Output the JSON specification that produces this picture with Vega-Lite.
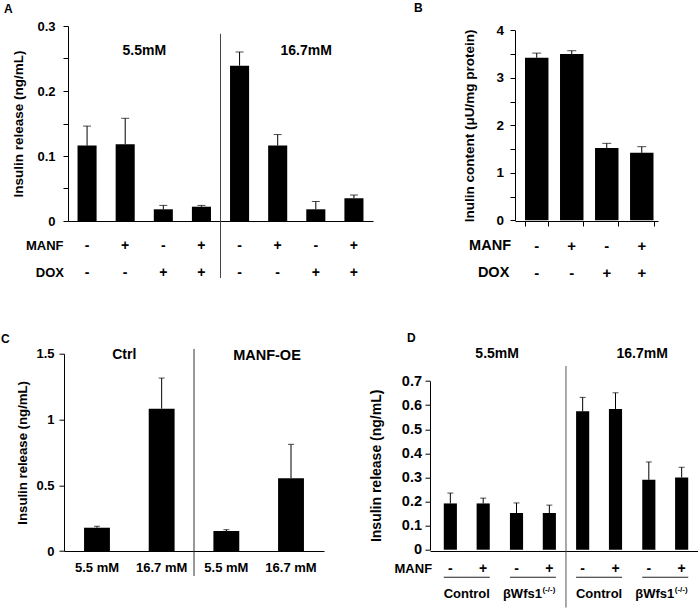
{
  "$schema": "https://vega.github.io/schema/vega-lite/v6.json",
  "background": "white",
  "padding": {"left": 1, "top": 2, "right": 0, "bottom": 0},
  "bounds": "flush",
  "columns": 2,
  "spacing": {"row": 132.7, "column": 57},
  "config": {
    "view": {"stroke": null},
    "font": "Liberation Sans",
    "axis": {"labelFont": "Liberation Sans", "titleFont": "Liberation Sans", "labelFontWeight": "bold", "titleFontWeight": "bold", "labelColor": "#000", "titleColor": "#000", "domainColor": "#000", "tickColor": "#000", "tickSize": 5, "grid": false, "domainWidth": 1, "tickWidth": 1},
    "text": {"font": "Liberation Sans", "fontWeight": "bold", "color": "#000"}
  },
  "datasets": {
    "A": [
      {"id": "1", "glucose": "5.5mM", "manf": "-", "dox": "-", "value": 0.116, "upper": 0.146},
      {"id": "2", "glucose": "5.5mM", "manf": "+", "dox": "-", "value": 0.118, "upper": 0.158},
      {"id": "3", "glucose": "5.5mM", "manf": "-", "dox": "+", "value": 0.018, "upper": 0.024},
      {"id": "4", "glucose": "5.5mM", "manf": "+", "dox": "+", "value": 0.022, "upper": 0.024},
      {"id": "5", "glucose": "16.7mM", "manf": "-", "dox": "-", "value": 0.239, "upper": 0.260},
      {"id": "6", "glucose": "16.7mM", "manf": "+", "dox": "-", "value": 0.116, "upper": 0.133},
      {"id": "7", "glucose": "16.7mM", "manf": "-", "dox": "+", "value": 0.018, "upper": 0.030},
      {"id": "8", "glucose": "16.7mM", "manf": "+", "dox": "+", "value": 0.035, "upper": 0.040}
    ],
    "B": [
      {"id": "1", "manf": "-", "dox": "-", "value": 3.42, "upper": 3.52},
      {"id": "2", "manf": "+", "dox": "-", "value": 3.50, "upper": 3.57},
      {"id": "3", "manf": "-", "dox": "+", "value": 1.52, "upper": 1.62},
      {"id": "4", "manf": "+", "dox": "+", "value": 1.42, "upper": 1.55}
    ],
    "C": [
      {"id": "1", "group": "Ctrl", "glucose": "5.5 mM", "value": 0.177, "upper": 0.188},
      {"id": "2", "group": "Ctrl", "glucose": "16.7 mM", "value": 1.082, "upper": 1.315},
      {"id": "3", "group": "MANF-OE", "glucose": "5.5 mM", "value": 0.152, "upper": 0.162},
      {"id": "4", "group": "MANF-OE", "glucose": "16.7 mM", "value": 0.553, "upper": 0.811}
    ],
    "D": [
      {"g": "5.5mM Control", "glucose": "5.5mM", "genotype": "Control", "manf": "-", "value": 0.192, "upper": 0.235},
      {"g": "5.5mM Control", "glucose": "5.5mM", "genotype": "Control", "manf": "+", "value": 0.192, "upper": 0.214},
      {"g": "5.5mM βWfs1", "glucose": "5.5mM", "genotype": "βWfs1", "manf": "-", "value": 0.152, "upper": 0.194},
      {"g": "5.5mM βWfs1", "glucose": "5.5mM", "genotype": "βWfs1", "manf": "+", "value": 0.152, "upper": 0.185},
      {"g": "16.7mM Control", "glucose": "16.7mM", "genotype": "Control", "manf": "-", "value": 0.574, "upper": 0.632},
      {"g": "16.7mM Control", "glucose": "16.7mM", "genotype": "Control", "manf": "+", "value": 0.584, "upper": 0.651},
      {"g": "16.7mM βWfs1", "glucose": "16.7mM", "genotype": "βWfs1", "manf": "-", "value": 0.290, "upper": 0.364},
      {"g": "16.7mM βWfs1", "glucose": "16.7mM", "genotype": "βWfs1", "manf": "+", "value": 0.300, "upper": 0.342}
    ]
  },
  "concat": [
    {
      "width": 309, "height": 195,
      "data": {"name": "A"},
      "encoding": {
        "x": {"field": "id", "type": "nominal", "scale": {"domain": ["1","2","3","4","5","6","7","8"], "range": [4, 309], "paddingInner": 0.5, "paddingOuter": 0.25}, "axis": {"labels": false, "ticks": false, "title": null}},
        "y": {"field": "value", "type": "quantitative", "scale": {"domain": [0, 0.3], "nice": false}, "axis": {"title": "Insulin release (ng/mL)", "values": [0, 0.05, 0.1, 0.15, 0.2, 0.25, 0.3], "labelExpr": "round(datum.value*20)%2==0 ? format(datum.value,'~g') : ''", "offset": -4, "labelPadding": 8, "titlePadding": 11, "labelFontSize": 13, "titleFontSize": 13.5}}
      },
      "layer": [
        {"mark": {"type": "bar", "color": "#000"}},
        {"mark": {"type": "rule", "color": "#000"}, "encoding": {"y2": {"field": "upper"}}},
        {"mark": {"type": "tick", "color": "#000", "size": 8, "thickness": 1}, "encoding": {"y": {"field": "upper", "type": "quantitative"}}},
        {"mark": {"type": "text", "fontSize": 14, "baseline": "middle"}, "encoding": {"y": {"datum": -0.0385}, "text": {"field": "manf"}}},
        {"mark": {"type": "text", "fontSize": 14, "baseline": "middle"}, "encoding": {"y": {"datum": -0.08}, "text": {"field": "dox"}}},
        {"transform": [{"filter": "datum.id == '1'"}], "mark": {"type": "text", "fontSize": 13, "align": "right", "baseline": "middle", "dx": -14}, "encoding": {"x": {"field": "id", "type": "nominal", "bandPosition": 0}, "y": {"datum": -0.0385}, "text": {"value": "MANF"}}},
        {"transform": [{"filter": "datum.id == '1'"}], "mark": {"type": "text", "fontSize": 13, "align": "right", "baseline": "middle", "dx": -13.5}, "encoding": {"x": {"field": "id", "type": "nominal", "bandPosition": 0}, "y": {"datum": -0.08}, "text": {"value": "DOX"}}},
        {"transform": [{"filter": "datum.id == '2'"}], "mark": {"type": "text", "fontSize": 14, "baseline": "middle"}, "encoding": {"x": {"field": "id", "type": "nominal", "bandPosition": 1.5}, "y": {"datum": 0.2615}, "text": {"field": "glucose"}}},
        {"transform": [{"filter": "datum.id == '6'"}], "mark": {"type": "text", "fontSize": 14, "baseline": "middle", "dx": 9.4}, "encoding": {"x": {"field": "id", "type": "nominal", "bandPosition": 1.5}, "y": {"datum": 0.2615}, "text": {"field": "glucose"}}},
        {"transform": [{"filter": "datum.id == '4'"}], "mark": {"type": "rule", "color": "#444"}, "encoding": {"x": {"field": "id", "type": "nominal", "bandPosition": 1.5}, "y": {"datum": 0.288}, "y2": {"datum": -0.0877}}},
        {"transform": [{"filter": "datum.id == '1'"}], "mark": {"type": "text", "fontSize": 12, "align": "left", "baseline": "middle", "dx": -73.5}, "encoding": {"x": {"field": "id", "type": "nominal", "bandPosition": 0}, "y": {"datum": 0.326}, "text": {"value": "A"}}}
      ]
    },
    {
      "width": 228, "height": 195,
      "data": {"name": "B"},
      "encoding": {
        "x": {"field": "id", "type": "nominal", "scale": {"domain": ["1","2","3","4"], "range": [85, 228], "paddingInner": 0.33, "paddingOuter": 0.207, "align": 0.69}, "axis": {"labels": false, "ticks": true, "tickBand": "extent", "title": null}},
        "y": {"field": "value", "type": "quantitative", "scale": {"domain": [0, 4], "nice": false, "range": [194.3, 4.3]}, "axis": {"title": "Inulin content (μU/mg protein)", "values": [0, 0.5, 1, 1.5, 2, 2.5, 3, 3.5, 4], "labelExpr": "round(datum.value*2)%2==0 ? format(datum.value,'~g') : ''", "offset": -85, "labelPadding": 6.5, "titlePadding": 19, "labelFontSize": 13.5, "titleFontSize": 13.5}}
      },
      "layer": [
        {"mark": {"type": "bar", "color": "#000"}},
        {"mark": {"type": "rule", "color": "#000"}, "encoding": {"y2": {"field": "upper"}}},
        {"mark": {"type": "tick", "color": "#000", "size": 9, "thickness": 1}, "encoding": {"y": {"field": "upper", "type": "quantitative"}}},
        {"mark": {"type": "text", "fontSize": 15, "baseline": "middle"}, "encoding": {"y": {"datum": -0.541}, "text": {"field": "manf"}}},
        {"mark": {"type": "text", "fontSize": 15, "baseline": "middle"}, "encoding": {"y": {"datum": -1.109}, "text": {"field": "dox"}}},
        {"transform": [{"filter": "datum.id == '1'"}], "mark": {"type": "text", "fontSize": 14.5, "align": "right", "baseline": "middle", "dx": -14}, "encoding": {"x": {"field": "id", "type": "nominal", "bandPosition": 0}, "y": {"datum": -0.541}, "text": {"value": "MANF"}}},
        {"transform": [{"filter": "datum.id == '1'"}], "mark": {"type": "text", "fontSize": 14.5, "align": "right", "baseline": "middle", "dx": -15.7}, "encoding": {"x": {"field": "id", "type": "nominal", "bandPosition": 0}, "y": {"datum": -1.109}, "text": {"value": "DOX"}}},
        {"transform": [{"filter": "datum.id == '1'"}], "mark": {"type": "text", "fontSize": 12, "align": "left", "baseline": "middle", "dx": -111}, "encoding": {"x": {"field": "id", "type": "nominal", "bandPosition": 0}, "y": {"datum": 4.459}, "text": {"value": "B"}}}
      ]
    },
    {
      "width": 260, "height": 197.3,
      "data": {"name": "C"},
      "encoding": {
        "x": {"field": "id", "type": "nominal", "scale": {"domain": ["1","2","3","4"], "paddingInner": 0.6, "paddingOuter": 0.31}, "axis": {"labels": false, "ticks": false, "title": null}},
        "y": {"field": "value", "type": "quantitative", "scale": {"domain": [0, 1.5], "nice": false}, "axis": {"title": "Insulin release (ng/mL)", "values": [0, 0.5, 1, 1.5], "labelExpr": "format(datum.value,'~g')", "labelPadding": 5, "titlePadding": 6, "labelFontSize": 13, "titleFontSize": 13.2}}
      },
      "layer": [
        {"mark": {"type": "bar", "color": "#000"}},
        {"mark": {"type": "rule", "color": "#000"}, "encoding": {"y2": {"field": "upper"}}},
        {"mark": {"type": "tick", "color": "#000", "size": 6, "thickness": 1}, "encoding": {"y": {"field": "upper", "type": "quantitative"}}},
        {"mark": {"type": "text", "fontSize": 13, "baseline": "middle"}, "encoding": {"y": {"datum": -0.127}, "text": {"field": "glucose"}}},
        {"transform": [{"filter": "datum.id == '1'"}], "mark": {"type": "text", "fontSize": 14, "baseline": "middle", "dx": -5}, "encoding": {"x": {"field": "id", "type": "nominal", "bandPosition": 1.75}, "y": {"datum": 1.493}, "text": {"field": "group"}}},
        {"transform": [{"filter": "datum.id == '3'"}], "mark": {"type": "text", "fontSize": 14.5, "baseline": "middle", "dx": 8.3}, "encoding": {"x": {"field": "id", "type": "nominal", "bandPosition": 1.75}, "y": {"datum": 1.48}, "text": {"field": "group"}}},
        {"transform": [{"filter": "datum.id == '2'"}], "mark": {"type": "rule", "color": "#333"}, "encoding": {"x": {"field": "id", "type": "nominal", "bandPosition": 1.75}, "y": {"datum": 1.536}, "y2": {"datum": -0.19}}},
        {"transform": [{"filter": "datum.id == '1'"}], "mark": {"type": "text", "fontSize": 12, "align": "left", "baseline": "middle", "dx": -83}, "encoding": {"x": {"field": "id", "type": "nominal", "bandPosition": 0}, "y": {"datum": 1.612}, "text": {"value": "C"}}}
      ]
    },
    {
      "width": 268, "height": 197.3,
      "data": {"name": "D"},
      "encoding": {
        "x": {"field": "g", "type": "nominal", "scale": {"domain": ["5.5mM Control", "5.5mM βWfs1", "16.7mM Control", "16.7mM βWfs1"], "paddingInner": 0.305, "paddingOuter": 0.178, "align": 0.585}, "axis": {"labels": false, "ticks": false, "title": null}},
        "y": {"field": "value", "type": "quantitative", "scale": {"domain": [0, 0.7], "nice": false, "range": [196, 27.3]}, "axis": {"title": "Insulin release (ng/mL)", "values": [0, 0.1, 0.2, 0.3, 0.4, 0.5, 0.6, 0.7], "labelExpr": "format(datum.value,'~g')", "labelPadding": 3.5, "titlePadding": 18, "labelFontSize": 14.5, "titleFontSize": 14}}
      },
      "layer": [
        {"mark": {"type": "bar", "color": "#000"}, "encoding": {"xOffset": {"field": "manf", "type": "nominal", "scale": {"domain": ["-", "+"], "paddingInner": 0.6, "paddingOuter": 0}}}},
        {"mark": {"type": "rule", "color": "#000"}, "encoding": {"xOffset": {"field": "manf", "type": "nominal"}, "y2": {"field": "upper"}}},
        {"mark": {"type": "tick", "color": "#000", "size": 6, "thickness": 1}, "encoding": {"xOffset": {"field": "manf", "type": "nominal"}, "y": {"field": "upper", "type": "quantitative"}}},
        {"mark": {"type": "text", "fontSize": 14, "baseline": "middle"}, "encoding": {"xOffset": {"field": "manf", "type": "nominal"}, "y": {"datum": -0.0813}, "text": {"field": "manf"}}},
        {"transform": [{"filter": "datum.manf == '-'"}], "mark": {"type": "rect", "color": "#222"}, "encoding": {"y": {"datum": -0.1125}, "y2": {"datum": -0.1167}}},
        {"transform": [{"filter": "datum.manf == '-' && datum.genotype == 'Control'"}], "mark": {"type": "text", "fontSize": 13, "baseline": "middle"}, "encoding": {"y": {"datum": -0.184}, "text": {"field": "genotype"}}},
        {"transform": [{"filter": "datum.manf == '-' && datum.genotype == 'βWfs1'"}], "mark": {"type": "text", "fontSize": 13, "align": "right", "baseline": "middle", "dx": 9}, "encoding": {"y": {"datum": -0.184}, "text": {"field": "genotype"}}},
        {"transform": [{"filter": "datum.manf == '-' && datum.genotype == 'βWfs1'"}], "mark": {"type": "text", "fontSize": 8, "align": "left", "baseline": "middle", "dx": 9.5, "dy": -4}, "encoding": {"y": {"datum": -0.184}, "text": {"value": "(-/-)"}}},
        {"transform": [{"filter": "datum.manf == '-' && datum.g == '5.5mM Control'"}], "mark": {"type": "text", "fontSize": 13, "align": "right", "baseline": "middle", "dx": -11.7}, "encoding": {"x": {"field": "g", "type": "nominal", "bandPosition": 0}, "y": {"datum": -0.0813}, "text": {"value": "MANF"}}},
        {"transform": [{"filter": "datum.manf == '-' && datum.g == '5.5mM Control'"}], "mark": {"type": "text", "fontSize": 14, "baseline": "middle", "dx": -2.7}, "encoding": {"x": {"field": "g", "type": "nominal", "bandPosition": 1.219}, "y": {"datum": 0.811}, "text": {"field": "glucose"}}},
        {"transform": [{"filter": "datum.manf == '-' && datum.g == '16.7mM Control'"}], "mark": {"type": "text", "fontSize": 14, "baseline": "middle", "dx": 10}, "encoding": {"x": {"field": "g", "type": "nominal", "bandPosition": 1.219}, "y": {"datum": 0.811}, "text": {"field": "glucose"}}},
        {"transform": [{"filter": "datum.manf == '-' && datum.g == '5.5mM βWfs1'"}], "mark": {"type": "rule", "color": "#555"}, "encoding": {"x": {"field": "g", "type": "nominal", "bandPosition": 1.219}, "y": {"datum": 0.762}, "y2": {"datum": -0.24}}},
        {"transform": [{"filter": "datum.manf == '-' && datum.g == '5.5mM Control'"}], "mark": {"type": "text", "fontSize": 12, "align": "left", "baseline": "middle", "dx": -36.7}, "encoding": {"x": {"field": "g", "type": "nominal", "bandPosition": 0}, "y": {"datum": 0.88}, "text": {"value": "D"}}}
      ]
    }
  ]
}
